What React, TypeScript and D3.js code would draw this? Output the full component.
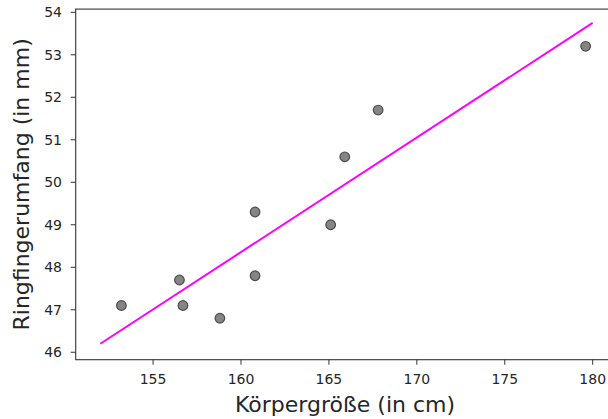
import React from "react";
import * as d3 from "d3";

// Körpergröße (cm) und Ringfingerumfang (mm) der Messpersonen
const heights = [153.2, 156.5, 156.7, 158.8, 160.8, 160.8, 165.1, 165.9, 167.8, 179.6];
const ringSizes = [47.1, 47.7, 47.1, 46.8, 49.3, 47.8, 49.0, 50.6, 51.7, 53.2];

// Regressionsgerade, Endpunkte
const fitX = [152, 180];
const fitY = [46.2, 53.75];

const xTicks = [155, 160, 165, 170, 175, 180];
const yTicks = [46, 47, 48, 49, 50, 51, 52, 53, 54];

const W = 608;
const H = 419;
const left = 75.7;
const right = 617.3;
const top = 9.1;
const bottom = 359.7;
const font = "'DejaVu Sans', sans-serif";

export default function App() {
  const x = d3.scaleLinear().domain([150.6, 181.4]).range([left, right]);
  const y = d3.scaleLinear().domain([45.825, 54.075]).range([bottom, top]);

  const line = d3
    .line<number>()
    .x((d) => x(d))
    .y((_, i) => y(fitY[i]));

  return (
    <svg
      width={W}
      height={H}
      style={{ position: "absolute", left: 0, top: 0, background: "#fff" }}
    >
      <rect x={0} y={0} width={W} height={H} fill="#fff" />
      {/* Achsenrahmen */}
      <rect
        x={left}
        y={top}
        width={right - left}
        height={bottom - top}
        fill="none"
        stroke="#333"
        strokeWidth={1.1}
      />
      {/* X-Achse */}
      {xTicks.map((t) => (
        <g key={"x" + t}>
          <line x1={x(t)} x2={x(t)} y1={bottom} y2={bottom + 5} stroke="#333" strokeWidth={1} />
          <text
            x={x(t)}
            y={384}
            textAnchor="middle"
            fontFamily={font}
            fontSize={14}
            fill="#262626"
          >
            {t}
          </text>
        </g>
      ))}
      {/* Y-Achse */}
      {yTicks.map((t) => (
        <g key={"y" + t}>
          <line x1={left - 5} x2={left} y1={y(t)} y2={y(t)} stroke="#333" strokeWidth={1} />
          <text
            x={62}
            y={y(t)}
            dy="0.36em"
            textAnchor="end"
            fontFamily={font}
            fontSize={14}
            fill="#262626"
          >
            {t}
          </text>
        </g>
      ))}
      {/* Messpunkte */}
      {heights.map((h, i) => (
        <circle
          key={"p" + i}
          cx={x(h)}
          cy={y(ringSizes[i])}
          r={4.8}
          fill="#858585"
          stroke="#4a4a4a"
          strokeWidth={1.2}
        />
      ))}
      {/* Regressionsgerade */}
      <path d={line(fitX) || ""} fill="none" stroke="#ff00ff" strokeWidth={2} />
      {/* Achsenbeschriftungen */}
      <text
        x={(left + right) / 2 - 1.5}
        y={411.7}
        textAnchor="middle"
        fontFamily={font}
        fontSize={22}
        fill="#262626"
      >
        Körpergröße (in cm)
      </text>
      <text
        transform={`translate(28.5, ${(top + bottom) / 2}) rotate(-90)`}
        textAnchor="middle"
        fontFamily={font}
        fontSize={22}
        fill="#262626"
      >
        Ringfingerumfang (in mm)
      </text>
    </svg>
  );
}
